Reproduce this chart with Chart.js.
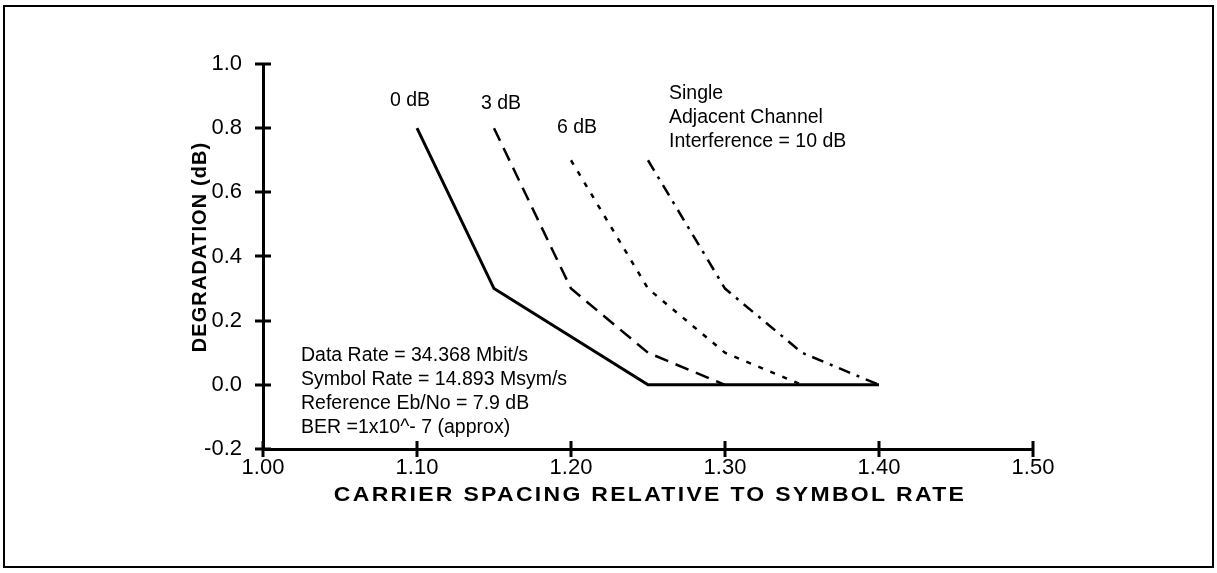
<!DOCTYPE html>
<html>
<head>
<meta charset="utf-8">
<script src="https://cdn.jsdelivr.net/npm/chart.js@4/dist/chart.umd.min.js"></script>
<style>
html,body{margin:0;padding:0;background:#fff;}
#wrap{position:absolute;left:0;top:0;width:1217px;height:573px;}
</style>
</head>
<body>
<div id="wrap"><canvas id="c" width="1217" height="573"></canvas></div>
<script>
// ---- data ----
const xTicks = [1.00, 1.10, 1.20, 1.30, 1.40, 1.50];
const yTicks = [-0.2, 0.0, 0.2, 0.4, 0.6, 0.8, 1.0];
const seriesNames = ['0 dB', '3 dB', '6 dB', '10 dB'];
const x0dB  = [1.10, 1.15, 1.25, 1.40];
const y0dB  = [0.80, 0.30, 0.00, 0.00];
const x3dB  = [1.15, 1.20, 1.25, 1.30];
const y3dB  = [0.80, 0.30, 0.10, 0.00];
const x6dB  = [1.20, 1.25, 1.30, 1.35];
const y6dB  = [0.70, 0.30, 0.10, 0.00];
const x10dB = [1.25, 1.30, 1.35, 1.40];
const y10dB = [0.70, 0.30, 0.10, 0.00];
const curveLabels = ['0 dB', '3 dB', '6 dB'];
const interferenceNote = ['Single', 'Adjacent Channel', 'Interference = 10 dB'];
const paramNote = ['Data Rate = 34.368 Mbit/s', 'Symbol Rate = 14.893 Msym/s', 'Reference Eb/No = 7.9 dB', 'BER =1x10^- 7 (approx)'];
const xTitle = 'CARRIER SPACING RELATIVE TO SYMBOL RATE';
const yTitle = 'DEGRADATION (dB)';

const pts = (xs, ys) => xs.map((x, i) => ({x: x, y: ys[i]}));
const FONT = '"Liberation Sans", Arial, sans-serif';

const decor = {
  id: 'decor',
  beforeDraw(chart) {
    const ctx = chart.ctx;
    ctx.save();
    ctx.fillStyle = '#fff';
    ctx.fillRect(0, 0, chart.width, chart.height);
    ctx.strokeStyle = '#000';
    ctx.lineWidth = 2;
    ctx.strokeRect(4, 6, 1209, 561);
    ctx.restore();
  },
  afterDraw(chart) {
    const ctx = chart.ctx;
    const xs = chart.scales.x, ys = chart.scales.y;
    const ca = chart.chartArea;
    ctx.save();
    ctx.strokeStyle = '#000';
    ctx.lineWidth = 3;
    // tick marks crossing the axes
    xTicks.forEach(v => {
      const px = Math.round(xs.getPixelForValue(v));
      ctx.beginPath(); ctx.moveTo(px, ca.bottom - 8); ctx.lineTo(px, ca.bottom + 8); ctx.stroke();
    });
    yTicks.forEach(v => {
      const py = Math.round(ys.getPixelForValue(v));
      ctx.beginPath(); ctx.moveTo(ca.left - 8, py); ctx.lineTo(ca.left + 8, py); ctx.stroke();
    });
    ctx.fillStyle = '#000';
    ctx.textBaseline = 'middle';
    ctx.textAlign = 'left';
    ctx.font = '19.5px ' + FONT;
    const cl = [[390, 101], [481, 104], [557, 128]];
    curveLabels.forEach((t, i) => ctx.fillText(t, cl[i][0], cl[i][1]));
    interferenceNote.forEach((t, i) => ctx.fillText(t, 669, 94 + i * 24));
    paramNote.forEach((t, i) => ctx.fillText(t, 301, 356 + i * 24));
    // axis titles
    ctx.font = 'bold 20px ' + FONT;
    ctx.textAlign = 'center';
    ctx.save();
    ctx.letterSpacing = '2px';
    ctx.translate(650, 495);
    ctx.scale(1.15, 1);
    ctx.fillText(xTitle, 0, 0);
    ctx.restore();
    ctx.letterSpacing = '1.1px';
    ctx.translate(200, 247);
    ctx.rotate(-Math.PI / 2);
    ctx.fillText(yTitle, 0, 0);
    ctx.restore();
  }
};

const common = {showLine: true, fill: false, pointRadius: 0, borderColor: '#000', tension: 0};

new Chart(document.getElementById('c'), {
  type: 'scatter',
  data: {
    datasets: [
      Object.assign({label: seriesNames[0], data: pts(x0dB, y0dB), borderWidth: 3}, common),
      Object.assign({label: seriesNames[1], data: pts(x3dB, y3dB), borderWidth: 2.5, borderDash: [14, 8]}, common),
      Object.assign({label: seriesNames[2], data: pts(x6dB, y6dB), borderWidth: 2.5, borderDash: [5, 8]}, common),
      Object.assign({label: seriesNames[3], data: pts(x10dB, y10dB), borderWidth: 2.5, borderDash: [12, 7, 3, 7]}, common)
    ]
  },
  options: {
    responsive: false,
    animation: false,
    devicePixelRatio: 1,
    layout: {padding: {left: 0, top: 64, right: 184, bottom: 0}},
    plugins: {legend: {display: false}, tooltip: {enabled: false}, title: {display: false}},
    scales: {
      x: {
        type: 'linear', min: 1.0, max: 1.5,
        afterFit: s => { s.height = 573 - 64 - 385; },
        afterBuildTicks: s => { s.ticks = xTicks.map(v => ({value: v})); },
        grid: {display: false},
        border: {display: true, color: '#000', width: 3},
        ticks: {color: '#000', padding: -2, font: {family: FONT, size: 22}, maxRotation: 0,
                callback: v => Number(v).toFixed(2)}
      },
      y: {
        type: 'linear', min: -0.2, max: 1.0,
        afterFit: s => { s.width = 263; },
        afterBuildTicks: s => { s.ticks = yTicks.map(v => ({value: v})); },
        grid: {display: false},
        border: {display: true, color: '#000', width: 3},
        ticks: {color: '#000', padding: 13, font: {family: FONT, size: 22},
                callback: v => Number(v).toFixed(1)}
      }
    }
  },
  plugins: [decor]
});
</script>
</body>
</html>
